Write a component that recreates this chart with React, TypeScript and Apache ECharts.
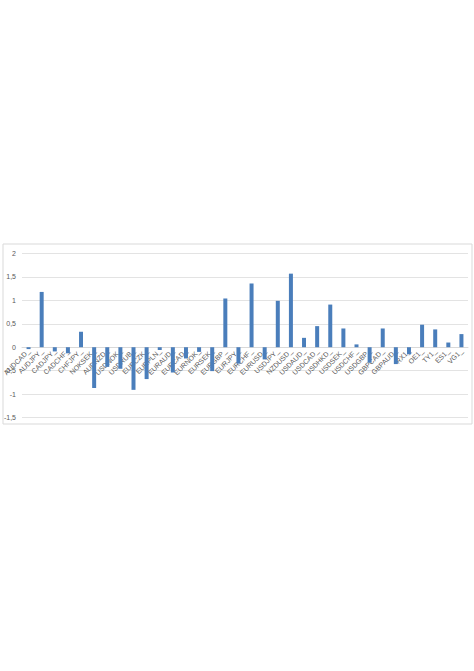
import React, { useEffect, useRef } from "react";
import * as echarts from "echarts";

const categories: string[] = [
  "AUDCAD_", "AUDJPY_", "CADJPY_", "CADCHF_", "CHFJPY_", "NOKSEK_", "AUDNZD_",
  "USDNOK_", "USDRUB_", "EURCZK_", "EURPLN_", "EURAUD_", "EURCAD_", "EURNOK_",
  "EURSEK_", "EURGBP_", "EURJPY_", "EURCHF_", "EURUSD_", "USDJPY_", "NZDUSD_",
  "USDAUD_", "USDCAD_", "USDHKD_", "USDSEK_", "USDCHF_", "USDGBP_", "GBPCAD_",
  "GBPAUD_", "RX1_", "OE1_", "TY1_", "ES1_", "VG1_",
];

const values: number[] = [
  -0.04, 1.18, -0.09, -0.13, 0.33, -0.87, -0.42,
  -0.46, -0.91, -0.68, -0.06, -0.54, -0.24, -0.1,
  -0.51, 1.04, -0.35, 1.36, -0.26, 0.99, 1.57,
  0.2, 0.45, 0.91, 0.4, 0.06, -0.33, 0.4,
  -0.36, -0.15, 0.48, 0.38, 0.1, 0.28,
];

const yMin = -1.5;
const yMax = 2;
const yStep = 0.5;

export default function App() {
  const ref = useRef<HTMLDivElement>(null);
  useEffect(() => {
    if (!ref.current) return;
    const chart = echarts.init(ref.current, undefined, { renderer: "svg" });
    chart.setOption({
      animation: false,
      backgroundColor: "#ffffff",
      graphic: [
        {
          type: "rect",
          shape: { x: 3, y: 244, width: 469, height: 180 },
          style: { fill: "none", stroke: "#d9d9d9", lineWidth: 1 },
          silent: true,
        },
      ],
      grid: { left: 22, right: 6, top: 253.5, bottom: 253.5 },
      xAxis: {
        type: "category",
        data: categories,
        offset: -70.5,
        axisTick: { show: false },
        axisLine: { show: true, onZero: false, lineStyle: { color: "#d9d9d9" } },
        axisLabel: {
          interval: 0,
          rotate: 45,
          fontSize: 7,
          color: "#595959",
          fontFamily: "Liberation Sans, Arial, sans-serif",
          margin: 3,
        },
      },
      yAxis: {
        type: "value",
        min: yMin,
        max: yMax,
        interval: yStep,
        axisLine: { show: false },
        axisTick: { show: false },
        splitLine: { lineStyle: { color: "#e3e3e3" } },
        axisLabel: {
          fontSize: 7,
          color: "#595959",
          fontFamily: "Liberation Sans, Arial, sans-serif",
          margin: 6,
          formatter: (v: number) => String(v).replace(".", ","),
        },
      },
      series: [
        {
          type: "bar",
          data: values,
          barWidth: 4,
          itemStyle: { color: "#4a7ebb" },
        },
      ],
    });
    return () => chart.dispose();
  }, []);
  return (
    <div
      ref={ref}
      style={{ position: "fixed", left: 0, top: 0, width: 474, height: 671 }}
    />
  );
}
